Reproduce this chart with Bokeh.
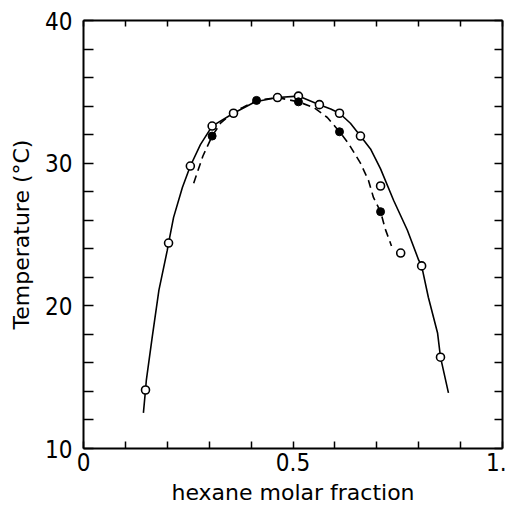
from bokeh.plotting import figure
from bokeh.models import LinearAxis, FixedTicker, Range1d
from bokeh.embed import file_html
from bokeh.resources import INLINE

# ---- data ----
# open circles (solid-line series)
open_x = [0.148, 0.203, 0.255, 0.307, 0.358, 0.463, 0.513, 0.563, 0.611, 0.661, 0.709, 0.757, 0.807, 0.852]
open_t = [14.1, 24.4, 29.8, 32.6, 33.5, 34.6, 34.7, 34.1, 33.5, 31.9, 28.4, 23.7, 22.8, 16.4]

# filled circles (dashed-line series)
filled_x = [0.307, 0.413, 0.513, 0.611, 0.709]
filled_t = [31.9, 34.4, 34.3, 32.2, 26.6]

# solid curve
solid_x = [0.143, 0.148, 0.150, 0.164, 0.180, 0.200, 0.203, 0.215, 0.236, 0.255, 0.279, 0.307,
           0.358, 0.410, 0.463, 0.513, 0.563, 0.590, 0.611, 0.637, 0.661, 0.685, 0.709, 0.740,
           0.773, 0.800, 0.807, 0.823, 0.845, 0.852, 0.871]
solid_t = [12.5, 14.1, 14.8, 17.8, 21.1, 23.9, 24.4, 26.2, 28.3, 29.8, 31.3, 32.6,
           33.5, 34.3, 34.6, 34.7, 34.1, 33.8, 33.5, 32.8, 31.9, 31.0, 29.6, 27.4,
           25.3, 23.2, 22.8, 20.6, 18.1, 16.4, 13.9]

# dashed curve
dashed_x = [0.263, 0.285, 0.307, 0.327, 0.358, 0.380, 0.413, 0.463, 0.513, 0.550, 0.582,
            0.611, 0.632, 0.661, 0.680, 0.692, 0.709, 0.720, 0.735]
dashed_t = [28.6, 30.5, 31.9, 32.8, 33.6, 33.9, 34.4, 34.6, 34.3, 33.9, 33.2,
            32.2, 31.4, 30.0, 28.8, 27.6, 26.6, 25.4, 24.2]

x_major = [0, 0.5, 1.0]
x_minor = [0.1, 0.2, 0.3, 0.4, 0.6, 0.7, 0.8, 0.9]
y_major = [10, 20, 30, 40]
y_minor = [12, 14, 16, 18, 22, 24, 26, 28, 32, 34, 36, 38]
x_labels = {0: "0", 0.5: "0.5", 1: "1."}

x_title = "hexane molar fraction"
y_title = "Temperature (°C)"

TICK_FONT = "DejaVu Sans Condensed"
TITLE_FONT = "DejaVu Sans"

p = figure(width=506, height=512, output_backend="svg", toolbar_location=None,
           x_range=Range1d(0, 1), y_range=Range1d(10, 40),
           x_axis_location=None, y_axis_location=None,
           min_border_left=83, min_border_right=4, min_border_top=20, min_border_bottom=64)
p.xgrid.visible = False
p.ygrid.visible = False
p.outline_line_color = None
p.background_fill_color = "white"
p.border_fill_color = "white"

def style(ax, tick_in, labels=True):
    ax.axis_line_color = "black"
    ax.axis_line_width = 2
    ax.major_tick_line_color = "black"
    ax.minor_tick_line_color = "black"
    ax.major_tick_line_width = 1.5
    ax.minor_tick_line_width = 1.5
    ax.major_tick_in = tick_in
    ax.major_tick_out = 0
    ax.minor_tick_in = tick_in
    ax.minor_tick_out = 0
    if labels:
        ax.major_label_text_font = TICK_FONT
        ax.major_label_text_font_size = "24px"
        ax.major_label_text_color = "black"
        ax.axis_label_text_font = TITLE_FONT
        ax.axis_label_text_font_size = "22px"
        ax.axis_label_text_font_style = "normal"
        ax.axis_label_text_color = "black"
    else:
        ax.major_label_overrides = {t: "" for t in ax.ticker.ticks}
        ax.major_label_text_font_size = "1px"
        ax.major_label_standoff = 0

xb = LinearAxis(ticker=FixedTicker(ticks=x_major, minor_ticks=x_minor), axis_label=x_title)
style(xb, 7)
xb.major_label_overrides = x_labels
xb.major_label_standoff = 4
xb.axis_label_standoff = 6
p.add_layout(xb, "below")

yl = LinearAxis(ticker=FixedTicker(ticks=y_major, minor_ticks=y_minor), axis_label=y_title)
style(yl, 10)
yl.major_label_standoff = 11
yl.axis_label_standoff = 8
p.add_layout(yl, "left")

xt = LinearAxis(ticker=FixedTicker(ticks=x_major, minor_ticks=x_minor))
style(xt, 6, labels=False)
p.add_layout(xt, "above")

yr = LinearAxis(ticker=FixedTicker(ticks=y_major, minor_ticks=y_minor))
style(yr, 8, labels=False)
p.add_layout(yr, "right")

p.line(solid_x, solid_t, line_color="black", line_width=1.6)
p.line(dashed_x, dashed_t, line_color="black", line_width=1.6, line_dash="8 5")

p.scatter(open_x, open_t, marker="circle", size=8, fill_color="white",
          line_color="black", line_width=1.6)
p.scatter(filled_x, filled_t, marker="circle", size=8, fill_color="black",
          line_color="black", line_width=1.0)

open("out.html", "w").write(file_html(p, INLINE))
